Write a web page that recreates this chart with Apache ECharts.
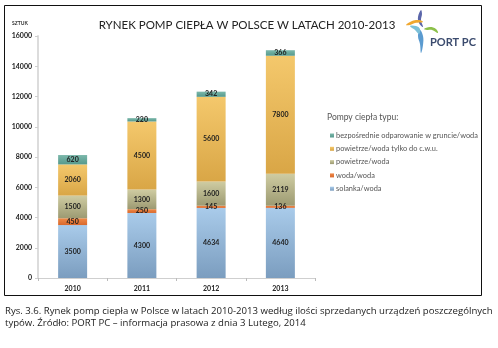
<!DOCTYPE html>
<html>
<head>
<meta charset="utf-8">
<script src="https://cdn.jsdelivr.net/npm/echarts@6/dist/echarts.min.js"></script>
<style>
  html, body { margin: 0; padding: 0; background: #fff; }
  #chart { width: 498px; height: 348px; }
</style>
</head>
<body>
<div id="chart"></div>
<script>
// Years on the category axis
const years = ['2010', '2011', '2012', '2013'];

// Units sold per heat-pump type (stacked bottom to top)
const solankaWoda = [3500, 4300, 4634, 4640];
const wodaWoda = [450, 250, 145, 136];
const powietrzeWoda = [1500, 1300, 1600, 2119];
const powietrzeCwu = [2060, 4500, 5600, 7800];
const bezposrednie = [620, 220, 342, 366];

const seriesNames = [
  'solanka/woda',
  'woda/woda',
  'powietrze/woda',
  'powietrze/woda tylko do c.w.u.',
  'bezpośrednie odparowanie w gruncie/woda'
];

const yTicks = { min: 0, max: 16000, interval: 2000 };

function grad(top, bottom) {
  return new echarts.graphic.LinearGradient(0, 0, 0, 1, [
    { offset: 0, color: top },
    { offset: 1, color: bottom }
  ]);
}

const palette = [
  ['#a9cbea', '#7b9dbf'],
  ['#f08a48', '#d8682c'],
  ['#cfcca2', '#9c9a72'],
  ['#f4c86c', '#d9a646'],
  ['#7cb8ab', '#55998c']
];
const legendColors = ['#8fb4d8', '#e4783a', '#b6b488', '#e8b858', '#6aa99c'];

const seriesData = [solankaWoda, wodaWoda, powietrzeWoda, powietrzeCwu, bezposrednie];

const chart = echarts.init(document.getElementById('chart'), null, { renderer: 'canvas' });

const series = seriesData.map((vals, i) => ({
  name: seriesNames[i],
  type: 'bar',
  stack: 'total',
  barWidth: 29,
  data: vals,
  color: legendColors[i],
  itemStyle: { color: grad(palette[i][0], palette[i][1]) },
  label: {
    show: true,
    position: 'inside',
    fontFamily: 'Lato',
    fontWeight: 'bold',
    fontSize: 7,
    color: '#1e1e1e'
  }
}));

// logo swoosh shapes
function swoosh(points, fill) {
  return { type: 'polygon', shape: { points: points, smooth: 0.4 }, style: { fill: fill } };
}

const option = {
  backgroundColor: '#ffffff',
  animation: false,
  title: {
    text: 'RYNEK POMP CIEPŁA W POLSCE W LATACH 2010-2013',
    left: 242,
    textAlign: 'center',
    top: 14,
    textStyle: { fontFamily: 'Lato', fontWeight: 'normal', fontSize: 11.5, color: '#222' }
  },
  grid: { left: 38, right: 183, top: 36, bottom: 70 },
  legend: {
    data: seriesNames.slice().reverse(),
    orient: 'vertical',
    left: 325,
    top: 127,
    itemWidth: 4,
    itemHeight: 4,
    itemGap: 6.3,
    icon: 'rect',
    textStyle: { fontFamily: 'Lato', fontSize: 7.4, color: '#555', padding: [0, 0, 0, -3] }
  },
  xAxis: {
    type: 'category',
    data: years,
    axisLine: { lineStyle: { color: '#cfcfcf', width: 1 } },
    axisTick: { show: true, length: 3, lineStyle: { color: '#bbb' } },
    axisLabel: { fontFamily: 'Lato', fontWeight: 'bold', fontSize: 7, color: '#222', margin: 7 }
  },
  yAxis: {
    type: 'value',
    min: yTicks.min,
    max: yTicks.max,
    interval: yTicks.interval,
    axisLine: { show: true, lineStyle: { color: '#dcdcdc', width: 2 } },
    axisTick: { show: true, length: 3, lineStyle: { color: '#cfcfcf' } },
    splitLine: { show: false },
    axisLabel: {
      fontFamily: 'Lato', fontWeight: 'bold', fontSize: 7, color: '#222', margin: 6,
      formatter: (v) => String(v)
    }
  },
  graphic: [
    { type: 'rect', shape: { x: 4.5, y: 5.5, width: 477, height: 290 }, style: { fill: 'none', stroke: '#111', lineWidth: 1 }, z: 100 },
    { type: 'text', x: 12, y: 21, style: { text: 'SZTUK', font: 'bold 5px Lato', fill: '#333' } },
    { type: 'text', x: 327, y: 113, style: { text: 'Pompy ciepła typu:', font: '8.5px Lato', fill: '#555' } },
    {
      type: 'group', x: 0, y: 0, children: [
        swoosh([[421, 10], [418, 17], [419, 23], [423, 27], [421, 20], [422, 14]], '#5b66aa'),
        swoosh([[406, 25], [412, 21], [419, 20], [423, 22], [415, 23], [410, 25]], '#f0a830'),
        swoosh([[424, 29], [430, 27], [436, 29], [438, 33], [432, 30], [427, 30]], '#8cc04a'),
        swoosh([[420, 30], [423, 36], [423, 45], [421, 53], [420, 44], [418, 36]], '#5b9bd0'),
        swoosh([[410, 26], [416, 26], [420, 29], [419, 34], [415, 30]], '#7cc0d8')
      ]
    },
    { type: 'text', x: 430, y: 37, style: { text: 'PORT PC', font: 'bold 11px Lato', fill: '#3b4b6e' } },
    { type: 'text', x: 5, y: 306, style: { text: 'Rys. 3.6. Rynek pomp ciepła w Polsce w latach 2010-2013 według ilości sprzedanych urządzeń poszczególnych', font: '9.6px "Open Sans"', fill: '#222' } },
    { type: 'text', x: 5, y: 318, style: { text: 'typów. Źródło: PORT PC – informacja prasowa z dnia 3 Lutego, 2014', font: '9.6px "Open Sans"', fill: '#222' } }
  ],
  series: series
};

chart.setOption(option);
</script>
</body>
</html>
